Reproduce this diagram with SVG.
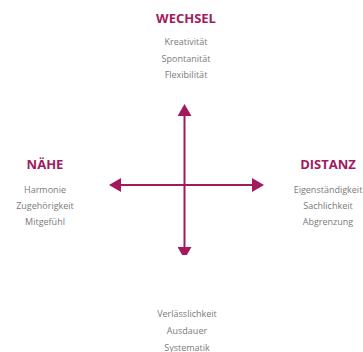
<svg xmlns="http://www.w3.org/2000/svg" width="363" height="352" viewBox="0 0 363 352">
<style>
.h{font-family:"Open Sans","Liberation Sans",sans-serif;font-weight:bold;font-size:13px;fill:#a3195e;text-anchor:middle}
.t{font-family:"Open Sans","Liberation Sans",sans-serif;font-size:9px;fill:#7a7a7a;text-anchor:middle}
.ax{stroke:#a3195e;stroke-width:2;fill:none}
</style>
<defs>
<marker id="ah" viewBox="0 0 12 14" markerWidth="12" markerHeight="14" refX="0" refY="7" orient="auto-start-reverse" markerUnits="userSpaceOnUse">
<path d="M0,0 L12,7 L0,14 Z" fill="#a3195e"/>
</marker>
<clipPath id="cut"><rect x="0" y="0" width="363" height="255"/></clipPath>
</defs>
<rect width="363" height="352" fill="#ffffff"/>
<g id="connectors" clip-path="url(#cut)">
<line class="ax" x1="184.5" y1="116" x2="184.5" y2="247" marker-start="url(#ah)" marker-end="url(#ah)"/>
<line class="ax" x1="121" y1="185" x2="252" y2="185" marker-start="url(#ah)" marker-end="url(#ah)"/>
</g>
<g id="wechsel">
<text class="h" x="186" y="23">WECHSEL</text>
<text class="t" x="186" y="45">Kreativität</text>
<text class="t" x="186" y="61.5">Spontanität</text>
<text class="t" x="186" y="78">Flexibilität</text>
</g>
<g id="naehe">
<text class="h" x="45" y="169">NÄHE</text>
<text class="t" x="45" y="192.5">Harmonie</text>
<text class="t" x="45" y="208.5">Zugehörigkeit</text>
<text class="t" x="45" y="225">Mitgefühl</text>
</g>
<g id="distanz">
<text class="h" x="328" y="169">DISTANZ</text>
<text class="t" x="328" y="192.5">Eigenständigkeit</text>
<text class="t" x="328" y="208.5">Sachlichkeit</text>
<text class="t" x="328" y="225">Abgrenzung</text>
</g>
<g id="bestaendigkeit">
<text class="t" x="187" y="317">Verlässlichkeit</text>
<text class="t" x="187" y="334">Ausdauer</text>
<text class="t" x="187" y="350.5">Systematik</text>
</g>
</svg>
